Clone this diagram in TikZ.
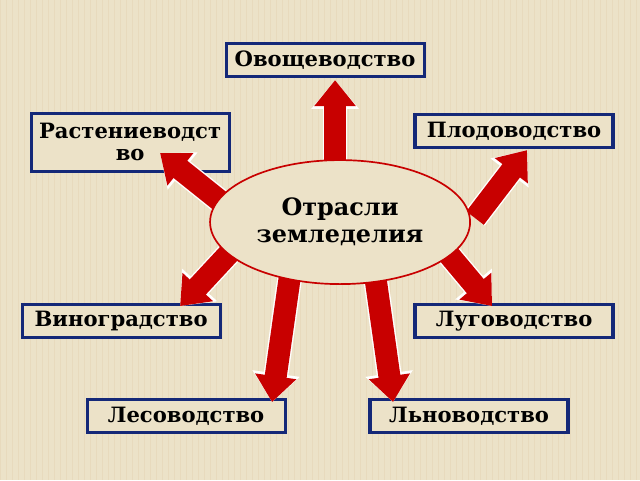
\documentclass[tikz,border=0pt]{standalone}
\usepackage{fontspec}
\setmainfont{DejaVu Serif}
\usetikzlibrary{arrows.meta,shapes.geometric}
\definecolor{paper}{RGB}{236,226,200}
\definecolor{boxblue}{RGB}{20,40,120}
\definecolor{arrred}{RGB}{200,0,0}
\tikzset{
  branch/.style={draw=boxblue,line width=2.2pt,fill=paper,font=\bfseries\fontsize{15}{16}\selectfont,
    minimum width=4.95cm,minimum height=0.82cm,inner sep=1pt,align=center},
  centre/.style={ellipse,draw=arrred,line width=1.2pt,fill=paper,minimum width=6.5cm,minimum height=3.1cm,
    font=\bfseries\fontsize{17}{19}\selectfont,align=center},
  block/.style={draw=white,line width=0.62cm,-{Triangle[width=1.15cm,length=0.72cm]},
    postaction={draw=arrred,line width=0.55cm,-{Triangle[width=1.0cm,length=0.65cm]}}}
}
\begin{document}
\begin{tikzpicture}[x=0.025cm,y=-0.025cm]
  \fill[paper] (0,0) rectangle (640,480);
  \foreach \i in {0,6,...,640} \draw[paper!85!brown,line width=0.2pt,opacity=0.5] (\i,0) -- (\i,480);
  \useasboundingbox (0,0) rectangle (640,480);

  \node[branch] (ovo) at (325,60) {Овощеводство};
  \node[branch,minimum height=1.45cm] (rast) at (130,142) {Растениеводст\\во};
  \node[branch] (plod) at (514,131) {Плодоводство};
  \node[branch] (vino) at (121,321) {Виноградство};
  \node[branch] (lug) at (514,321) {Луговодство};
  \node[branch] (les) at (186,416) {Лесоводство};
  \node[branch] (lno) at (469,416) {Льноводство};

  \coordinate (s1) at (335,165); \coordinate (t1) at (335,80);
  \coordinate (s2) at (225,205); \coordinate (t2) at (160,153);
  \coordinate (s3) at (475,218); \coordinate (t3) at (527,150);
  \coordinate (s4) at (232,250); \coordinate (t4) at (180,306);
  \coordinate (s5) at (445,250); \coordinate (t5) at (492,306);
  \coordinate (s6) at (290,275); \coordinate (t6) at (272,402);
  \coordinate (s7) at (375,275); \coordinate (t7) at (393,402);
  \foreach \s/\t in {s1/t1,s2/t2,s3/t3,s4/t4,s5/t5,s6/t6,s7/t7}
    \draw[block] (\s) -- (\t);

  \node[centre] (core) at (340,222) {Отрасли\\земледелия};
\end{tikzpicture}
\end{document}
